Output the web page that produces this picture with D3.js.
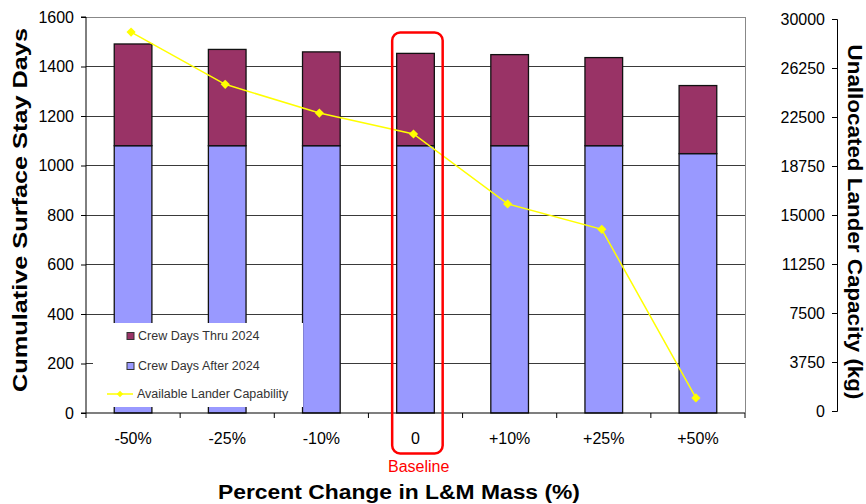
<!DOCTYPE html>
<html>
<head>
<meta charset="utf-8">
<script src="https://cdn.jsdelivr.net/npm/d3@7"></script>
<style>
  html, body { margin: 0; padding: 0; background: #fff; }
  svg { display: block; }
  text { font-family: "Liberation Sans", Arial, sans-serif; }
</style>
</head>
<body>
<svg id="chart" width="866" height="504"></svg>
<script>
// ---- data ----
const categories = ["-50%", "-25%", "-10%", "0", "+10%", "+25%", "+50%"];
const crewAfter2024 = [1080, 1080, 1080, 1080, 1080, 1080, 1048];   // lower (lavender) segment
const crewThru2024  = [411, 389, 379, 373, 368, 356, 275];          // upper (maroon) segment
const landerCapability = [29000, 25000, 22800, 21200, 15850, 13900, 1000];
const leftTicks = [0, 200, 400, 600, 800, 1000, 1200, 1400, 1600];
const rightTicks = [0, 3750, 7500, 11250, 15000, 18750, 22500, 26250, 30000];
const seriesNames = ["Crew Days Thru 2024", "Crew Days After 2024", "Available Lander Capability"];

// ---- layout ----
const svg = d3.select("#chart");
const L = 86, R = 745, T = 17, B = 413;
const colThru = "#993366", colAfter = "#9999FF", colLine = "#FFFF00";

const x = d3.scaleBand().domain(categories).range([L, R]).paddingInner(0.6).paddingOuter(0.3);
const yL = d3.scaleLinear().domain([0, 1600]).range([B, T]);
const yR = d3.scaleLinear().domain([0, 30000]).range([411, 19]);

// gridlines
svg.append("g").selectAll("line").data(leftTicks.filter(d => d > 0 && d < 1600)).join("line")
  .attr("x1", L).attr("x2", R).attr("y1", d => yL(d)).attr("y2", d => yL(d))
  .attr("stroke", "#3a3a3a").attr("stroke-width", 1).attr("shape-rendering", "crispEdges");
// plot border (top/right)
svg.append("path").attr("d", `M${L},${yL(1600)}H${R}V${B}`)
  .attr("fill", "none").attr("stroke", "#888").attr("stroke-width", 1).attr("shape-rendering", "crispEdges");

// bars
const barG = svg.append("g");
categories.forEach((c, i) => {
  const bx = x(c), bw = x.bandwidth();
  barG.append("rect").attr("x", bx).attr("width", bw)
    .attr("y", yL(crewAfter2024[i])).attr("height", yL(0) - yL(crewAfter2024[i]))
    .attr("fill", colAfter).attr("stroke", "#111").attr("stroke-width", 1.3);
  const top = crewAfter2024[i] + crewThru2024[i];
  barG.append("rect").attr("x", bx).attr("width", bw)
    .attr("y", yL(top)).attr("height", yL(crewAfter2024[i]) - yL(top))
    .attr("fill", colThru).attr("stroke", "#111").attr("stroke-width", 1.3);
});

// line
const cx = c => x(c) + x.bandwidth() / 2 - 2;
svg.append("path")
  .attr("d", d3.line().x((d, i) => cx(categories[i])).y(d => yR(d))(landerCapability))
  .attr("fill", "none").attr("stroke", colLine).attr("stroke-width", 1.5);
const diamond = d3.symbol().type(d3.symbolSquare).size(42);
svg.append("g").selectAll("path").data(landerCapability).join("path")
  .attr("d", diamond)
  .attr("transform", (d, i) => `translate(${cx(categories[i])},${yR(d)}) rotate(45)`)
  .attr("fill", colLine);

// legend (white box hiding the lower part of bars)
const lg = svg.append("g");
lg.append("rect").attr("x", 93).attr("y", 323).attr("width", 210).attr("height", 84).attr("fill", "#fff");
const legY = [336, 366, 394];
lg.append("rect").attr("x", 127).attr("y", legY[0] - 3.5).attr("width", 7).attr("height", 7)
  .attr("fill", colThru).attr("stroke", "#333").attr("stroke-width", 1);
lg.append("rect").attr("x", 127).attr("y", legY[1] - 3.5).attr("width", 7).attr("height", 7)
  .attr("fill", colAfter).attr("stroke", "#333").attr("stroke-width", 1);
lg.append("line").attr("x1", 107).attr("x2", 133).attr("y1", legY[2]).attr("y2", legY[2])
  .attr("stroke", colLine).attr("stroke-width", 1.5);
lg.append("path").attr("d", d3.symbol().type(d3.symbolSquare).size(22))
  .attr("transform", `translate(120,${legY[2]}) rotate(45)`).attr("fill", colLine);
lg.selectAll("text").data(seriesNames).join("text")
  .attr("x", (d, i) => i === 2 ? 137 : 138).attr("y", (d, i) => legY[i])
  .attr("dy", "0.35em").attr("font-size", "12.5px").attr("fill", "#333").text(d => d);

// left axis
const axL = svg.append("g").attr("transform", `translate(${L},0)`)
  .call(d3.axisLeft(yL).tickValues(leftTicks).tickSize(5).tickPadding(7).tickFormat(d3.format("d")));
axL.selectAll("text").attr("font-size", "16px").attr("fill", "#000").attr("font-family", "Liberation Sans, Arial, sans-serif");
axL.selectAll("line, path").attr("stroke", "#000");
axL.select(".domain").attr("d", `M-5,${yL(0)}H0V${yL(1600)}H-5`);

// right axis
const axR = svg.append("g").attr("transform", `translate(837,0)`)
  .call(d3.axisLeft(yR).tickValues(rightTicks).tickSize(5).tickPadding(7).tickFormat(d3.format("d")));
axR.selectAll("text").attr("font-size", "16px").attr("fill", "#000").attr("font-family", "Liberation Sans, Arial, sans-serif");
axR.selectAll("line, path").attr("stroke", "#000");

// bottom axis
const bounds = d3.range(categories.length + 1).map(i => L + i * x.step());
svg.append("line").attr("x1", L).attr("x2", R).attr("y1", B).attr("y2", B)
  .attr("stroke", "#000").attr("stroke-width", 1.2);
svg.append("g").selectAll("line").data(bounds).join("line")
  .attr("x1", d => d).attr("x2", d => d).attr("y1", B).attr("y2", B + 5)
  .attr("stroke", "#000").attr("stroke-width", 1);
svg.append("g").selectAll("text").data(categories).join("text")
  .attr("x", d => x(d) + x.bandwidth() / 2).attr("y", 444)
  .attr("text-anchor", "middle").attr("font-size", "16px").attr("fill", "#000").text(d => d);

// baseline annotation
const bx0 = x("0");
svg.append("rect").attr("x", bx0 - 4.5).attr("y", 32.5).attr("width", 50.5).attr("height", 421)
  .attr("rx", 8).attr("ry", 8).attr("fill", "none").attr("stroke", "#FF0000").attr("stroke-width", 2.5);
svg.append("text").attr("x", bx0 + 22).attr("y", 472).attr("text-anchor", "middle")
  .attr("font-size", "16px").attr("fill", "#FF0000").text("Baseline");

// axis titles
svg.append("text").attr("x", 399).attr("y", 499).attr("text-anchor", "middle")
  .attr("font-size", "19.5px").attr("font-weight", "bold")
  .attr("textLength", 362).attr("lengthAdjust", "spacingAndGlyphs")
  .text("Percent Change in L&M Mass (%)");
svg.append("text").attr("transform", "translate(27,210) rotate(-90)")
  .attr("text-anchor", "middle").attr("font-size", "21px").attr("font-weight", "bold")
  .attr("textLength", 364).attr("lengthAdjust", "spacingAndGlyphs")
  .text("Cumulative Surface Stay Days");
svg.append("text").attr("transform", "translate(848,222) rotate(90)")
  .attr("text-anchor", "middle").attr("font-size", "21px").attr("font-weight", "bold")
  .attr("textLength", 355).attr("lengthAdjust", "spacingAndGlyphs")
  .text("Unallocated Lander Capacity (kg)");
</script>
</body>
</html>
